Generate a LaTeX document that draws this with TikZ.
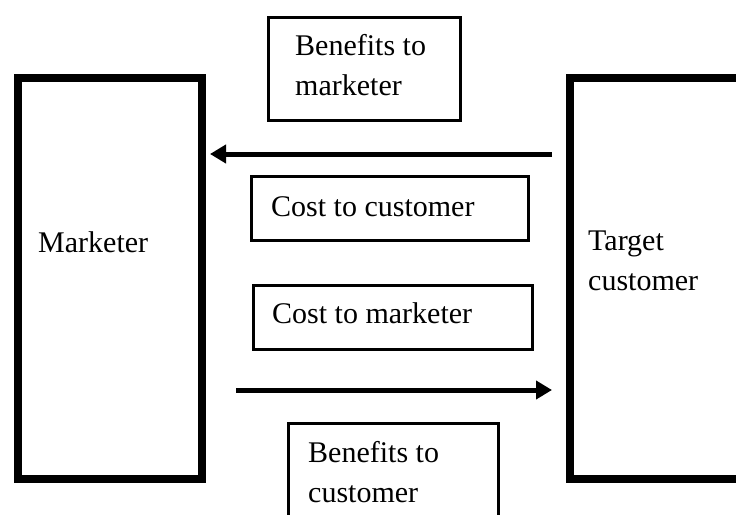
\documentclass[tikz,border=0pt]{standalone}
\usepackage{fontspec}
\setmainfont{Liberation Serif}
\usetikzlibrary{arrows.meta}
\begin{document}
\begin{tikzpicture}[x=1pt,y=-1pt,
  bigbox/.style={draw, line width=8pt, rectangle, inner sep=0pt, anchor=north west},
  smallbox/.style={draw, line width=3pt, rectangle, inner sep=0pt, anchor=north west},
  lbl/.style={anchor=base west, inner sep=0pt, font=\fontsize{30}{40}\selectfont, align=left},
  flow/.style={line width=5pt, -{Triangle[length=16pt,width=18pt]}}]
\useasboundingbox (0,0) rectangle (736,514);
\clip (0,0) rectangle (736,514);
% boxes
\node[bigbox, minimum width=184pt, minimum height=401pt] (mkt) at (14,74) {};
\node[bigbox, minimum width=200pt, minimum height=401pt] (tgt) at (566,74) {};
\node[smallbox, minimum width=192pt, minimum height=103pt] (bm) at (266.5,15.5) {};
\node[smallbox, minimum width=277pt, minimum height=64pt] (cc) at (249.5,174.5) {};
\node[smallbox, minimum width=279pt, minimum height=64pt] (cm) at (251.5,283.5) {};
\node[smallbox, minimum width=210pt, minimum height=120pt] (bc) at (286.5,421.5) {};
% labels (base anchor = baseline of last line)
\node[lbl] (tmkt) at (38,252) {Marketer};
\node[lbl] (ttgt) at (588,290) {Target\\customer};
\node[lbl] (tbm) at (295,95) {Benefits to\\marketer};
\node[lbl] (tcc) at (271,216) {Cost to customer};
\node[lbl] (tcm) at (272,323) {Cost to marketer};
\node[lbl] (tbc) at (308,502) {Benefits to\\customer};
% connectors
\path (mkt.east) ++(4,0) coordinate (mkE);
\path (mkt.east) ++(30,0) coordinate (mkS);
\path (tgt.west) ++(-14,0) coordinate (tgW);
\draw[flow] (tgW |- 0,154) -- (mkE |- 0,154);
\draw[flow] (mkS |- 0,390) -- (tgW |- 0,390);
\end{tikzpicture}
\end{document}
